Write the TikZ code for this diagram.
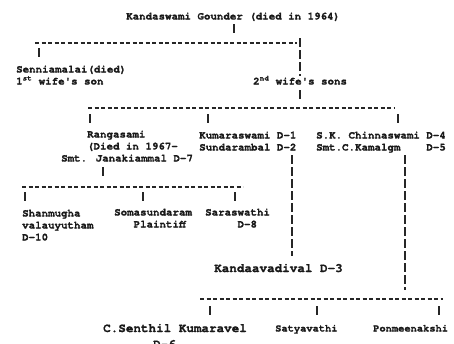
\documentclass[tikz,border=0pt]{standalone}
\usepackage{fontspec}
\setmainfont{TeX Gyre Cursor}[Ligatures=TeXOff,BoldFeatures={FakeBold=1.2}]
\usetikzlibrary{positioning}

\begin{document}
\begin{tikzpicture}[x=1pt,y=1pt,
  person/.style={inner sep=0pt,anchor=base west,align=left,text=black!90,
    font=\bfseries\fontsize{10.8}{12}\selectfont},
  bigperson/.style={person,font=\bfseries\fontsize{12.6}{16}\selectfont},
  smallperson/.style={person,font=\bfseries\fontsize{10.4}{12}\selectfont},
  hline/.style={draw=black!85,line width=1.3pt,dash pattern=on 4pt off 2.5pt},
  vline/.style={draw=black!85,line width=1.3pt,dash pattern=on 8.5pt off 3.5pt}]
\useasboundingbox [fill=white] (0,0) rectangle (454,-343);
\node [person] (gounder) at (126,-19.5) {Kandaswami Gounder (died in 1964)};
\node [person] (senni) at (16,-84.5) {Senniamalai(died)\\1\textsuperscript{st} wife's son};
\node [person] (second) at (253,-84.5) {2\textsuperscript{nd} wife's sons};
\node [person] (ranga) at (61,-161.5) {\hphantom{xxxx}Rangasami\\\hphantom{xxxx}(Died in 1967-\\Smt. Janakiammal D-7};
\node [person] (kumar) at (199,-150.5) {Kumaraswami D-1\\Sundarambal D-2};
\node [person] (chinna) at (316,-150.5) {S.K. Chinnaswami D-4\\Smt.C.Kamalgm\hphantom{xxxx}D-5};
\node [person] (shan) at (22,-240.5) {Shanmugha\\valauyutham\\D-10};
\node [person] (soma) at (114,-227.5) {Somasundaram\\\hphantom{xxx}Plaintiff};
\node [person] (saras) at (205,-227.5) {Saraswathi\\\hphantom{xxxxx}D-8};
\node [bigperson] (kanda) at (214,-272) {Kandaavadival D-3};
\node [bigperson] (senthil) at (103,-348) {C.Senthil Kumaravel\\\hspace*{50pt}D-6};
\node [smallperson] (satya) at (275,-331.5) {Satyavathi};
\node [smallperson] (ponme) at (373,-331.5) {Ponmeenakshi};
\coordinate (rowA) at (35,-43);
\coordinate (rowB) at (88,-108);
\coordinate (rowC) at (22,-187);
\coordinate (rowD) at (200,-299);
\draw [vline] (234,-24) -- (234,-34);
\draw [hline] (rowA) -- (297,-43);
\draw [vline] (300,-38) -- (300,-76);
\draw [vline] (39,-48) -- (39,-59);
\draw [vline] (300,-90) -- (300,-100);
\draw [hline] (rowB) -- (395,-108);
\draw [vline] (90,-114) -- (90,-126);
\draw [vline] (208,-114) -- (208,-126);
\draw [vline] (398,-114) -- (398,-126);
\draw [vline] (103,-167) -- (103,-178);
\draw [hline] (rowC) -- (243,-187);
\draw [vline] (25,-192) -- (25,-203);
\draw [vline] (143,-192) -- (143,-203);
\draw [vline] (235,-192) -- (235,-203);
\draw [vline] (292,-155) -- (292,-256);
\draw [vline] (405,-155) -- (405,-290);
\draw [hline] (rowD) -- (443,-299);
\draw [vline] (210,-306) -- (210,-318);
\draw [vline] (317,-306) -- (317,-318);
\draw [vline] (439,-306) -- (439,-318);
\end{tikzpicture}
\end{document}
